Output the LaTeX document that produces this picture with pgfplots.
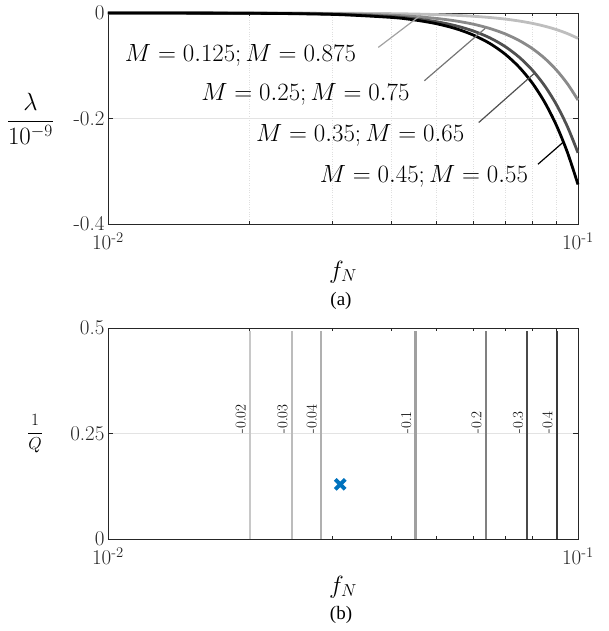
\documentclass[border=0pt]{standalone}
\usepackage{fontspec}
\usepackage{pgfplots}
\pgfplotsset{compat=1.18}
\newfontfamily\capfont{Liberation Serif}

\definecolor{axgray}{HTML}{262626}
\definecolor{gridgray}{HTML}{E3E3E3}
\definecolor{mlblue}{HTML}{0072BD}
\definecolor{cLight}{HTML}{BEBEBE}
\definecolor{cMid}{HTML}{8A8A8A}
\definecolor{cDark}{HTML}{505050}
\definecolor{cBlack}{HTML}{000000}

\tikzset{
  curvelabel/.style={font=\fontsize{24}{28}\selectfont, inner sep=0pt},
  contlabel/.style={font=\fontsize{15}{18}\selectfont, rotate=90,
    anchor=south west, inner xsep=0pt, inner ysep=4pt},
}
\pgfplotsset{
  every tick label/.append style={font=\fontsize{21}{25}\selectfont, text=black!85},
}

\begin{document}
\begin{tikzpicture}
\path[use as bounding box] (0pt,0pt) rectangle (609pt,-631pt);

% ---------- (a) growth rate versus normalised frequency ----------
\begin{semilogxaxis}[
  scale only axis, width=470pt, height=211pt,
  at={(108pt,-224pt)}, anchor=south west,
  xmin=0.01, xmax=0.1, ymin=-0.4, ymax=0,
  xtick={0.01,0.1},
  xticklabels={10\textsuperscript{-2},10\textsuperscript{-1}},
  ytick={-0.4,-0.2,0}, yticklabels={-0.4,-0.2,0},
  minor xtick={0.02,0.03,0.04,0.05,0.06,0.07,0.08,0.09},
  tick align=inside, major tick length=5pt, minor tick length=3pt,
  axis line style={draw=axgray, line width=0.8pt},
  tick style={draw=axgray, line width=0.6pt},
  xticklabel style={yshift=-5pt},
  xlabel={$f_N$},
  xlabel style={at={(axis description cs:0.5,0)}, anchor=center,
                yshift=-48pt, font=\fontsize{23}{27}\selectfont},
  ymajorgrids, xminorgrids,
  major grid style={draw=gridgray, line width=0.6pt},
  minor grid style={draw=gray!25, dotted, line width=0.5pt},
  clip=false,
  ylabel={$\displaystyle\frac{\lambda}{10^{-9}}$},
  ylabel style={at={(axis description cs:-0.165,0.5)}, anchor=center,
                rotate=-90, font=\fontsize{24}{28}\selectfont},
]
% M = 0.125 / 0.875
\addplot[cLight, line width=2.8pt, smooth] coordinates {
 (0.01,0) (0.02,-0.00008) (0.03,-0.00039) (0.04,-0.00123) (0.045,-0.00197)
 (0.05,-0.00300) (0.055,-0.00439) (0.06,-0.00622) (0.065,-0.00857)
 (0.07,-0.01152) (0.075,-0.01519) (0.08,-0.01966) (0.085,-0.02506)
 (0.09,-0.03149) (0.095,-0.03910) (0.1,-0.048)};
% M = 0.25 / 0.75
\addplot[cMid, line width=2.8pt, smooth] coordinates {
 (0.01,-0.00002) (0.02,-0.00026) (0.03,-0.00134) (0.04,-0.00422) (0.045,-0.00677)
 (0.05,-0.01031) (0.055,-0.01510) (0.06,-0.02138) (0.065,-0.02945)
 (0.07,-0.03962) (0.075,-0.05221) (0.08,-0.06758) (0.085,-0.08613)
 (0.09,-0.10826) (0.095,-0.13439) (0.1,-0.165)};
% M = 0.35 / 0.65
\addplot[cDark, line width=2.8pt, smooth] coordinates {
 (0.01,-0.00003) (0.02,-0.00042) (0.03,-0.00215) (0.04,-0.00678) (0.045,-0.01087)
 (0.05,-0.01656) (0.055,-0.02425) (0.06,-0.03434) (0.065,-0.04730)
 (0.07,-0.06363) (0.075,-0.08385) (0.08,-0.10854) (0.085,-0.13833)
 (0.09,-0.17387) (0.095,-0.21584) (0.1,-0.265)};
% M = 0.45 / 0.55
\addplot[cBlack, line width=2.8pt, smooth] coordinates {
 (0.01,-0.00003) (0.02,-0.00052) (0.03,-0.00263) (0.04,-0.00832) (0.045,-0.01332)
 (0.05,-0.02031) (0.055,-0.02974) (0.06,-0.04212) (0.065,-0.05801)
 (0.07,-0.07803) (0.075,-0.10283) (0.08,-0.13312) (0.085,-0.16965)
 (0.09,-0.21323) (0.095,-0.26471) (0.1,-0.325)};

% curve annotations
\draw[cLight!85!black, line width=1.2pt] (axis cs:0.0376,-0.0652) -- (axis cs:0.0463,-0.004);
\draw[cMid!85!black, line width=1.2pt] (axis cs:0.0471,-0.1285) -- (axis cs:0.0635,-0.0290);
\draw[cDark, line width=1.2pt] (axis cs:0.0615,-0.2076) -- (axis cs:0.0806,-0.1150);
\draw[cBlack, line width=1.2pt] (axis cs:0.0822,-0.2867) -- (axis cs:0.0930,-0.2450);
\node[curvelabel] at (axis cs:0.01914,-0.081) {$M=0.125; M=0.875$};
\node[curvelabel] at (axis cs:0.0263,-0.1538) {$M=0.25; M=0.75$};
\node[curvelabel] at (axis cs:0.0344,-0.2329) {$M=0.35; M=0.65$};
\node[curvelabel] at (axis cs:0.0470,-0.3089) {$M=0.45; M=0.55$};
\end{semilogxaxis}

% ---------- (b) contours of lambda in the (f_N, 1/Q) plane ----------
\begin{semilogxaxis}[
  scale only axis, width=470pt, height=211pt,
  at={(108pt,-539pt)}, anchor=south west,
  xmin=0.01, xmax=0.1, ymin=0, ymax=0.5,
  xtick={0.01,0.1},
  xticklabels={10\textsuperscript{-2},10\textsuperscript{-1}},
  ytick={0,0.25,0.5}, yticklabels={0,0.25,0.5},
  minor xtick={},
  tick align=inside, major tick length=5pt,
  axis line style={draw=axgray, line width=0.8pt},
  tick style={draw=axgray, line width=0.6pt},
  xticklabel style={yshift=-5pt},
  xlabel={$f_N$},
  xlabel style={at={(axis description cs:0.5,0)}, anchor=center,
                yshift=-48pt, font=\fontsize{23}{27}\selectfont},
  ymajorgrids,
  major grid style={draw=gridgray, line width=0.6pt},
  ylabel={$\displaystyle\frac{1}{Q}$},
  ylabel style={at={(axis description cs:-0.155,0.5)}, anchor=center,
                rotate=-90, font=\fontsize{16}{19}\selectfont},
]
\addplot[color={rgb,255:red,200;green,200;blue,200}, line width=2.2pt] coordinates {(0.02005,0) (0.02005,0.493)};
\addplot[color={rgb,255:red,188;green,188;blue,188}, line width=2.2pt] coordinates {(0.0246,0) (0.0246,0.493)};
\addplot[color={rgb,255:red,176;green,176;blue,176}, line width=2.2pt] coordinates {(0.0284,0) (0.0284,0.493)};
\addplot[color={rgb,255:red,160;green,160;blue,160}, line width=2.2pt] coordinates {(0.0451,0) (0.0451,0.493)};
\addplot[color={rgb,255:red,128;green,128;blue,128}, line width=2.2pt] coordinates {(0.0637,0) (0.0637,0.493)};
\addplot[color={rgb,255:red,74;green,74;blue,74}, line width=2.2pt] coordinates {(0.0780,0) (0.0780,0.493)};
\addplot[color={rgb,255:red,58;green,58;blue,58}, line width=2.2pt] coordinates {(0.0902,0) (0.0902,0.493)};

\node[contlabel] at (axis cs:0.02005,0.25) {-0.02};
\node[contlabel] at (axis cs:0.0246,0.25) {-0.03};
\node[contlabel] at (axis cs:0.0284,0.25) {-0.04};
\node[contlabel] at (axis cs:0.0451,0.25) {-0.1};
\node[contlabel] at (axis cs:0.0637,0.25) {-0.2};
\node[contlabel] at (axis cs:0.0780,0.25) {-0.3};
\node[contlabel] at (axis cs:0.0902,0.25) {-0.4};

% operating point
\addplot[only marks, mark=x, mark size=7pt, line width=3.8pt, color=mlblue]
  coordinates {(0.0312,0.1295)};
\end{semilogxaxis}

\node[font=\capfont\fontsize{19}{22}\selectfont] at (341pt,-301pt) {(a)};
\node[font=\capfont\fontsize{19}{22}\selectfont] at (341pt,-615pt) {(b)};
\end{tikzpicture}
\end{document}
